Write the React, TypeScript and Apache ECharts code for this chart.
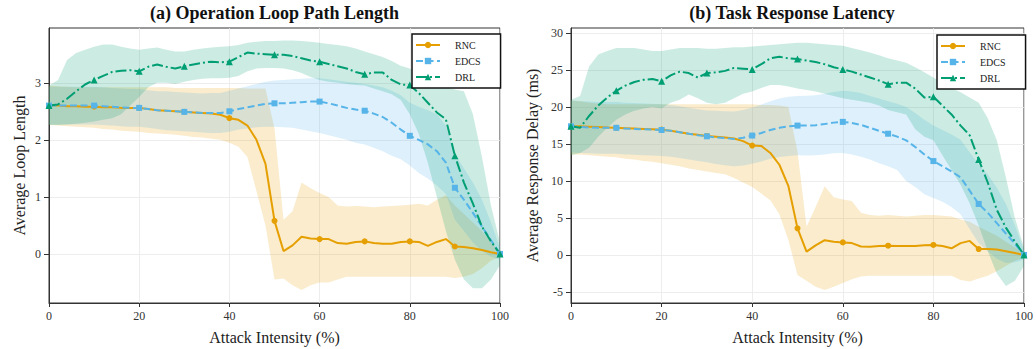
import React, { useEffect, useRef } from 'react';
import * as echarts from 'echarts';

// Attack intensity grid (%)
const X = [0, 2, 4, 6, 8, 10, 12, 14, 16, 18, 20, 22, 24, 26, 28, 30, 32, 34, 36, 38, 40, 42, 44, 46, 48, 50, 52, 54, 56, 58, 60, 62, 64, 66, 68, 70, 72, 74, 76, 78, 80, 82, 84, 86, 88, 90, 92, 94, 96, 98, 100];

// (a) Operation Loop Path Length
const L_RNC = [2.60, 2.60, 2.59, 2.59, 2.58, 2.58, 2.57, 2.57, 2.56, 2.56, 2.56, 2.54, 2.52, 2.51, 2.50, 2.49, 2.48, 2.47, 2.46, 2.44, 2.38, 2.35, 2.25, 2.00, 1.58, 0.58, 0.05, 0.15, 0.30, 0.27, 0.26, 0.26, 0.19, 0.18, 0.21, 0.22, 0.19, 0.18, 0.18, 0.21, 0.22, 0.21, 0.14, 0.21, 0.26, 0.13, 0.12, 0.10, 0.07, 0.03, 0.00];
const L_RNC_LO = [2.26, 2.25, 2.24, 2.23, 2.22, 2.21, 2.19, 2.18, 2.16, 2.15, 2.14, 2.12, 2.11, 2.10, 2.09, 2.07, 2.05, 2.04, 2.02, 2.00, 1.95, 1.88, 1.70, 1.10, 0.50, -0.45, -0.43, -0.55, -0.63, -0.55, -0.50, -0.50, -0.45, -0.40, -0.40, -0.40, -0.40, -0.40, -0.40, -0.40, -0.40, -0.40, -0.40, -0.40, -0.40, -0.42, -0.40, -0.35, -0.25, -0.12, -0.05];
const L_RNC_HI = [2.95, 2.94, 2.93, 2.92, 2.92, 2.92, 2.92, 2.92, 2.92, 2.92, 2.92, 2.92, 2.92, 2.92, 2.91, 2.91, 2.91, 2.91, 2.91, 2.91, 2.91, 2.91, 2.90, 2.90, 2.90, 2.20, 0.60, 0.75, 1.25, 1.15, 1.07, 1.00, 0.85, 0.83, 0.84, 0.83, 0.82, 0.83, 0.84, 0.85, 0.86, 0.88, 0.85, 0.95, 1.03, 0.85, 0.70, 0.55, 0.40, 0.20, 0.05];
const L_EDCS = [2.60, 2.60, 2.60, 2.60, 2.60, 2.60, 2.59, 2.58, 2.57, 2.56, 2.56, 2.54, 2.52, 2.51, 2.50, 2.49, 2.48, 2.47, 2.47, 2.47, 2.50, 2.54, 2.57, 2.60, 2.63, 2.64, 2.64, 2.65, 2.66, 2.67, 2.67, 2.64, 2.60, 2.56, 2.53, 2.51, 2.46, 2.40, 2.30, 2.18, 2.07, 2.00, 1.92, 1.80, 1.60, 1.16, 0.95, 0.72, 0.48, 0.24, 0.00];
const L_EDCS_LO = [2.27, 2.27, 2.27, 2.27, 2.27, 2.27, 2.26, 2.25, 2.24, 2.23, 2.23, 2.21, 2.19, 2.17, 2.16, 2.15, 2.14, 2.13, 2.12, 2.12, 2.14, 2.18, 2.20, 2.22, 2.23, 2.23, 2.22, 2.21, 2.18, 2.15, 2.12, 2.08, 2.04, 2.00, 1.95, 1.92, 1.86, 1.80, 1.72, 1.66, 1.55, 1.42, 1.32, 1.20, 1.05, 0.60, 0.40, 0.20, 0.05, -0.05, -0.10];
const L_EDCS_HI = [2.93, 2.93, 2.93, 2.93, 2.93, 2.93, 2.92, 2.91, 2.90, 2.89, 2.89, 2.87, 2.85, 2.85, 2.84, 2.83, 2.82, 2.81, 2.82, 2.82, 2.86, 2.90, 2.94, 2.98, 3.02, 3.04, 3.05, 3.06, 3.07, 3.08, 3.08, 3.06, 3.04, 3.02, 3.00, 2.98, 2.95, 2.92, 2.86, 2.78, 2.65, 2.58, 2.52, 2.45, 2.25, 1.75, 1.50, 1.25, 0.95, 0.55, 0.10];
const L_DRL = [2.60, 2.62, 2.72, 2.85, 2.97, 3.05, 3.12, 3.19, 3.21, 3.22, 3.20, 3.28, 3.32, 3.28, 3.25, 3.29, 3.32, 3.35, 3.37, 3.36, 3.37, 3.45, 3.53, 3.51, 3.50, 3.49, 3.49, 3.47, 3.43, 3.39, 3.37, 3.33, 3.29, 3.25, 3.19, 3.15, 3.18, 3.18, 3.05, 2.97, 2.96, 2.82, 2.65, 2.48, 2.36, 1.72, 1.25, 0.88, 0.48, 0.22, 0.00];
const L_DRL_LO = [2.26, 2.26, 2.27, 2.28, 2.30, 2.32, 2.35, 2.38, 2.45, 2.60, 2.75, 2.92, 3.00, 3.00, 2.98, 3.02, 3.05, 3.07, 3.08, 3.08, 3.09, 3.12, 3.20, 3.25, 3.26, 3.26, 3.25, 3.22, 3.17, 3.10, 3.05, 3.02, 3.00, 2.98, 2.96, 2.95, 2.90, 2.85, 2.80, 2.70, 2.45, 2.10, 1.60, 1.00, 0.40, -0.10, -0.45, -0.60, -0.60, -0.45, -0.20];
const L_DRL_HI = [2.95, 3.05, 3.40, 3.52, 3.58, 3.63, 3.67, 3.67, 3.63, 3.60, 3.58, 3.60, 3.62, 3.58, 3.55, 3.55, 3.58, 3.60, 3.62, 3.63, 3.64, 3.66, 3.70, 3.72, 3.73, 3.73, 3.74, 3.74, 3.73, 3.72, 3.70, 3.68, 3.66, 3.64, 3.60, 3.55, 3.50, 3.45, 3.38, 3.30, 3.25, 3.15, 3.05, 2.98, 2.92, 2.88, 2.85, 2.45, 1.70, 0.85, 0.20];

// (b) Task Response Latency
const R_RNC = [17.4, 17.4, 17.35, 17.3, 17.25, 17.2, 17.15, 17.1, 17.05, 17.0, 16.95, 16.8, 16.6, 16.4, 16.25, 16.1, 16.0, 15.9, 15.75, 15.4, 14.8, 14.75, 13.8, 12.2, 9.3, 3.6, 0.45, 1.3, 2.0, 1.8, 1.7, 1.6, 1.15, 1.1, 1.2, 1.25, 1.2, 1.2, 1.2, 1.3, 1.35, 1.2, 0.9, 1.6, 1.9, 0.8, 0.8, 0.75, 0.5, 0.25, 0.0];
const R_RNC_LO = [13.6, 13.6, 13.5, 13.4, 13.3, 13.2, 13.0, 12.9, 12.7, 12.6, 12.4, 12.2, 12.0, 11.7, 11.5, 11.3, 11.1, 10.9, 10.4, 9.8, 9.2, 8.3, 7.4, 5.5, 2.0, -2.7, -3.5, -4.3, -4.75, -4.3, -3.8, -3.3, -2.9, -2.8, -2.8, -2.8, -2.8, -2.8, -2.8, -2.8, -2.8, -2.8, -2.8, -3.4, -3.6, -3.2, -2.8, -2.2, -1.5, -0.8, -0.3];
const R_RNC_HI = [20.9, 20.8, 20.6, 20.5, 20.4, 20.4, 20.4, 20.4, 20.4, 20.4, 20.4, 20.4, 20.4, 20.4, 20.4, 20.4, 20.4, 20.4, 20.4, 20.4, 20.4, 20.3, 20.3, 20.2, 20.0, 14.0, 3.8, 6.5, 9.3, 7.8, 7.5, 7.3, 5.7, 5.4, 5.3, 5.4, 5.3, 5.2, 5.3, 5.4, 5.4, 5.3, 5.2, 4.8, 4.5, 3.8, 3.2, 2.6, 1.8, 1.0, 0.3];
const R_EDCS = [17.4, 17.3, 17.25, 17.2, 17.2, 17.2, 17.1, 17.05, 17.0, 16.95, 16.9, 16.8, 16.6, 16.4, 16.2, 16.05, 15.9, 15.8, 15.7, 15.85, 16.15, 16.5, 16.9, 17.2, 17.4, 17.5, 17.5, 17.55, 17.7, 17.9, 18.0, 17.85, 17.6, 17.2, 16.8, 16.4, 16.0, 15.5, 14.6, 13.6, 12.7, 12.0, 11.3, 10.5, 8.7, 6.9, 5.7, 4.3, 2.9, 1.5, 0.0];
const R_EDCS_LO = [13.9, 13.8, 13.75, 13.7, 13.7, 13.7, 13.6, 13.55, 13.5, 13.45, 13.4, 13.3, 13.1, 12.9, 12.7, 12.55, 12.3, 12.15, 12.0, 12.1, 12.35, 12.65, 13.0, 13.25, 13.4, 13.5, 13.45, 13.5, 13.6, 13.75, 13.8, 13.6, 13.3, 12.9, 12.4, 12.0, 11.5, 10.0, 9.2, 8.2, 7.7, 7.2, 6.5, 5.5, 3.5, 1.6, 0.5, -0.5, -1.1, -1.0, -0.6];
const R_EDCS_HI = [20.9, 20.8, 20.75, 20.7, 20.7, 20.7, 20.6, 20.55, 20.5, 20.45, 20.4, 20.3, 20.1, 19.9, 19.7, 19.55, 19.5, 19.45, 19.4, 19.6, 19.95, 20.35, 20.8, 21.15, 21.4, 21.5, 21.55, 21.6, 21.8, 22.05, 22.2, 22.1, 21.9, 21.5, 21.15, 20.8, 20.45, 20.0, 19.2, 18.3, 17.5, 16.9, 16.3, 15.6, 13.9, 12.2, 10.9, 9.1, 6.9, 4.0, 0.6];
const R_DRL = [17.4, 17.2, 18.8, 20.2, 21.3, 22.2, 22.9, 23.4, 23.7, 23.8, 23.5, 24.3, 24.8, 24.6, 24.0, 24.6, 24.7, 24.9, 25.3, 25.2, 25.1, 25.8, 26.6, 26.8, 26.6, 26.5, 26.3, 26.1, 25.8, 25.4, 25.1, 24.8, 24.4, 24.0, 23.6, 23.1, 23.3, 23.3, 22.5, 21.3, 21.4, 20.2, 19.0, 17.5, 16.2, 12.9, 9.8, 6.1, 3.7, 1.8, 0.0];
const R_DRL_LO = [13.5, 13.8, 14.5, 16.0, 17.2, 18.3, 19.0, 19.5, 19.8, 20.0, 19.8, 20.6, 21.0, 21.7, 21.2, 20.6, 20.4, 20.6, 21.2, 21.8, 22.1, 22.6, 23.0, 23.0, 22.8, 22.5, 22.3, 22.1, 21.8, 21.5, 21.2, 21.0, 20.8, 20.6, 20.2, 19.6, 19.3, 19.0, 17.0, 16.0, 15.5, 13.5, 11.5, 9.5, 7.0, 4.0, 0.5, -2.5, -4.2, -3.5, -1.5];
const R_DRL_HI = [21.0, 21.5, 25.5, 27.1, 27.6, 28.0, 28.0, 28.0, 27.8, 27.6, 27.6, 27.8, 28.0, 28.0, 28.0, 27.9, 27.9, 28.0, 28.1, 28.1, 28.2, 28.3, 28.4, 28.5, 28.6, 28.7, 28.7, 28.6, 28.5, 28.4, 28.3, 28.0, 27.7, 27.4, 27.0, 26.6, 26.3, 26.0, 25.4, 24.7, 24.0, 23.3, 22.6, 22.0, 21.3, 20.6, 18.5, 15.5, 10.5, 5.0, 1.0];

const NAMES = ['RNC', 'EDCS', 'DRL'];
const X_TICKS = [0, 20, 40, 60, 80, 100];
const L_Y_TICKS = [0, 1, 2, 3];
const R_Y_TICKS = [-5, 0, 5, 10, 15, 20, 25, 30];
const TITLES = ['(a) Operation Loop Path Length', '(b) Task Response Latency'];
const X_NAME = 'Attack Intensity (%)';
const Y_NAMES = ['Average Loop Length', 'Average Response Delay (ms)'];

const COLORS = ['#E69F00', '#56B4E9', '#009E73'];
const BAND_FILLS = ['rgba(230,159,0,0.2)', 'rgba(86,180,233,0.2)', 'rgba(0,158,115,0.2)'];
const SYMBOLS = ['circle', 'rect', 'triangle'];
const SYM_SIZES = [6, 6, 7];
const DASHES: any[] = ['solid', [7, 3.5], [11, 3, 2, 3]];
const FONT = '"Liberation Serif", "Times New Roman", serif';

function band(g: number, lo: number[], hi: number[], fill: string) {
  return {
    type: 'custom',
    xAxisIndex: g,
    yAxisIndex: g,
    silent: true,
    clip: true,
    z: 1,
    data: [[X[0], hi[0]]],
    renderItem: (_p: any, api: any) => {
      const pts: number[][] = [];
      for (let i = 0; i < X.length; i++) pts.push(api.coord([X[i], hi[i]]));
      for (let i = X.length - 1; i >= 0; i--) pts.push(api.coord([X[i], lo[i]]));
      return { type: 'polygon', shape: { points: pts }, style: { fill } };
    },
  };
}

function line(g: number, k: number, ys: number[]) {
  return {
    type: 'line',
    name: NAMES[k],
    xAxisIndex: g,
    yAxisIndex: g,
    z: 3,
    data: X.map((x, i) => [x, ys[i]]),
    symbol: SYMBOLS[k],
    symbolSize: (_v: any, p: any) => (p.dataIndex % 5 === 0 ? SYM_SIZES[k] : 0),
    showAllSymbol: true,
    lineStyle: { color: COLORS[k], width: 2, type: DASHES[k] },
    itemStyle: { color: COLORS[k], borderWidth: 0 },
    emphasis: { disabled: true },
  };
}

function xAxis(g: number) {
  return {
    type: 'value',
    gridIndex: g,
    min: 0,
    max: 100,
    interval: 20,
    name: X_NAME,
    nameLocation: 'middle',
    nameGap: 26,
    nameTextStyle: { fontFamily: FONT, fontSize: 16, color: '#222' },
    axisLine: { show: true, onZero: false, lineStyle: { color: '#333', width: 1 } },
    axisTick: { show: true, length: 4, customValues: X_TICKS, lineStyle: { color: '#333' } },
    axisLabel: { fontFamily: FONT, fontSize: 12, color: '#333', margin: 7, customValues: X_TICKS },
    splitLine: { show: true, lineStyle: { color: '#e8e8e8', width: 0.8 } },
  };
}

function yAxis(g: number, min: number, max: number, ticks: number[], gap: number) {
  return {
    type: 'value',
    gridIndex: g,
    min,
    max,
    name: Y_NAMES[g],
    nameLocation: 'middle',
    nameGap: gap,
    nameTextStyle: { fontFamily: FONT, fontSize: 16, color: '#222' },
    axisLine: { show: true, onZero: false, lineStyle: { color: '#333', width: 1 } },
    axisTick: { show: true, length: 5, customValues: ticks, lineStyle: { color: '#333' } },
    axisLabel: { fontFamily: FONT, fontSize: 12, color: '#333', margin: 8, customValues: ticks },
    splitLine: { show: true, lineStyle: { color: '#e8e8e8', width: 0.8 } },
  };
}

function legend(left: number, top: number) {
  return {
    orient: 'vertical',
    left,
    top,
    data: NAMES,
    itemWidth: 24,
    itemHeight: 8,
    itemGap: 6,
    padding: [6, 20, 6, 3],
    borderColor: '#111',
    borderWidth: 1.5,
    borderRadius: 0,
    backgroundColor: '#fff',
    selectedMode: false,
    textStyle: { fontFamily: FONT, fontSize: 10, color: '#222', padding: [0, 0, 0, 10] },
    z: 10,
  };
}

export default function App() {
  const ref = useRef<HTMLDivElement>(null);
  useEffect(() => {
    if (!ref.current) return;
    const chart = echarts.init(ref.current, null, { renderer: 'svg' });
    chart.setOption({
      animation: false,
      backgroundColor: '#fff',
      textStyle: { fontFamily: FONT },
      title: [
        { text: TITLES[0], left: 274.5, top: 4, textAlign: 'center', padding: 0, textStyle: { fontFamily: FONT, fontWeight: 'bold', fontSize: 18, color: '#111' } },
        { text: TITLES[1], left: 792, top: 4, textAlign: 'center', padding: 0, textStyle: { fontFamily: FONT, fontWeight: 'bold', fontSize: 18, color: '#111' } },
      ],
      grid: [
        { left: 49, top: 28, width: 451, height: 275, show: true, borderColor: '#333', borderWidth: 1, backgroundColor: 'transparent', outerBoundsMode: 'none', containLabel: false },
        { left: 571, top: 28, width: 453, height: 275, show: true, borderColor: '#333', borderWidth: 1, backgroundColor: 'transparent', outerBoundsMode: 'none', containLabel: false },
      ],
      xAxis: [xAxis(0), xAxis(1)],
      yAxis: [yAxis(0, -0.86, 3.96, L_Y_TICKS, 22), yAxis(1, -6.5, 30.7, R_Y_TICKS, 31)],
      legend: [legend(412, 34), legend(937, 35)],
      series: [
        band(0, L_RNC_LO, L_RNC_HI, BAND_FILLS[0]),
        band(0, L_EDCS_LO, L_EDCS_HI, BAND_FILLS[1]),
        band(0, L_DRL_LO, L_DRL_HI, BAND_FILLS[2]),
        band(1, R_RNC_LO, R_RNC_HI, BAND_FILLS[0]),
        band(1, R_EDCS_LO, R_EDCS_HI, BAND_FILLS[1]),
        band(1, R_DRL_LO, R_DRL_HI, BAND_FILLS[2]),
        line(0, 0, L_RNC),
        line(0, 1, L_EDCS),
        line(0, 2, L_DRL),
        line(1, 0, R_RNC),
        line(1, 1, R_EDCS),
        line(1, 2, R_DRL),
      ],
    });
    return () => chart.dispose();
  }, []);
  return <div ref={ref} style={{ position: 'fixed', left: 0, top: 0, width: 1036, height: 349 }} />;
}
